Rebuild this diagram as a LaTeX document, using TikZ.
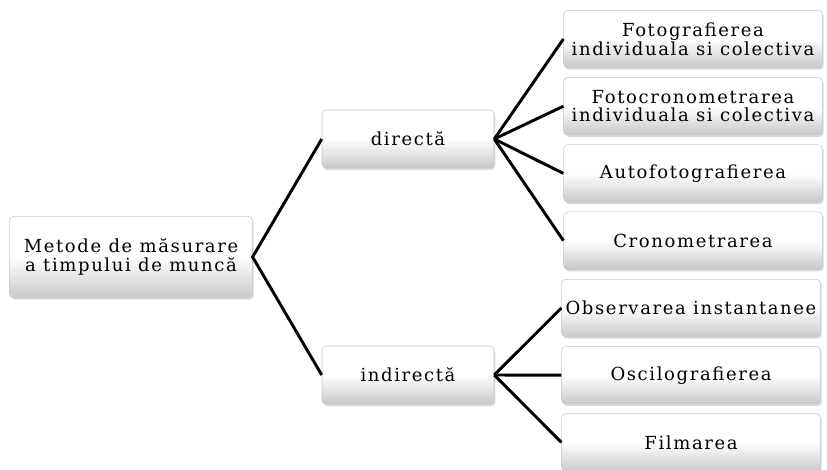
\documentclass[tikz,border=0pt]{standalone}
\usepackage{fontspec}
\setmainfont{DejaVu Serif}
\usetikzlibrary{positioning,shadows}
\definecolor{BoxEdge}{RGB}{200,200,200}
\definecolor{BoxShade}{RGB}{200,200,200}
\tikzset{
  link/.style={line width=2.2pt,draw=black},
  box/.style={draw=BoxEdge,thin,rounded corners=3pt,top color=white,
    bottom color=BoxShade,middle color=white,
    drop shadow={opacity=0.3,shadow xshift=1pt,shadow yshift=-1.5pt},
    align=center,inner sep=1pt,
    font=\fontsize{13.5}{14}\selectfont\addfontfeatures{LetterSpace=9}},
  rootbox/.style={box,minimum width=182pt,minimum height=61pt},
  midbox/.style={box,minimum width=129pt,minimum height=43.5pt},
  leafbox/.style={box,minimum width=194pt,minimum height=43pt}
}

\begin{document}
\begin{tikzpicture}[x=0.75pt,y=-0.75pt,node distance=7pt]
  \useasboundingbox (0,0) rectangle (827,470);
  \node[rootbox] (methods) at (131,257) {Metode de măsurare\\a timpului de muncă};
  \node[midbox] (direct) at (408,139) {directă};
  \node[midbox] (indirect) at (408,375) {indirectă};
  % directa
  \node[leafbox] (photo) at (693,39) {Fotografierea\\individuala si colectiva};
  \node[leafbox,below=of photo] (photochrono) {Fotocronometrarea\\individuala si colectiva};
  \node[leafbox,below=of photochrono] (autophoto) {Autofotografierea};
  \node[leafbox,below=of autophoto] (chrono) {Cronometrarea};
  % indirecta
  \node[leafbox] (observ) at (691,308) {Observarea instantanee};
  \node[leafbox,below=of observ] (oscillo) {Oscilografierea};
  \node[leafbox,below=of oscillo] (film) {Filmarea};
  \draw[link] (direct.west) -- (methods.east) -- (indirect.west);
  \foreach \leaf in {photo,photochrono,autophoto,chrono}
    \draw[link] (direct.east) -- (\leaf.west);
  \foreach \leaf in {observ,oscillo,film}
    \draw[link] (indirect.east) -- (\leaf.west);
\end{tikzpicture}
\end{document}
